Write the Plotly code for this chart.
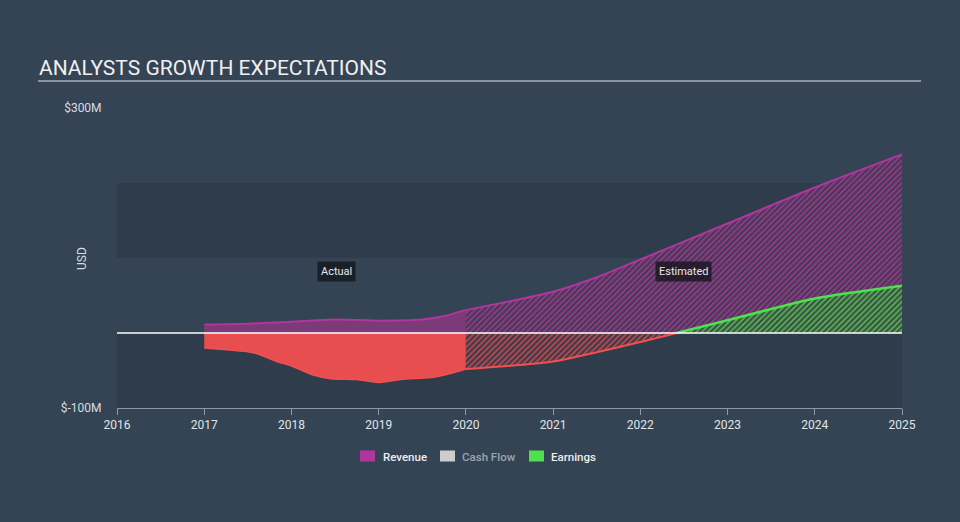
import plotly.graph_objects as go

# ---- data (USD millions) ----
rev_act_x = [2017.0, 2017.5, 2018.0, 2018.5, 2019.0, 2019.5, 2019.77, 2019.89, 2020.0]
rev_act_y = [11.5, 12.5, 15, 18, 16.5, 18, 23, 27, 30.5]

rev_est_x = [2020.0, 2021.0, 2021.54, 2022.0, 2023.0, 2024.0, 2025.0]
rev_est_y = [30.5, 55, 76, 98, 146, 194, 238]

earn_act_x = [2017.0, 2017.33, 2017.5, 2017.64, 2017.83, 2018.0, 2018.25, 2018.45,
              2018.75, 2019.0, 2019.25, 2019.63, 2019.82, 2020.0]
earn_act_y = [-20, -23, -25, -29, -38, -44, -56, -61, -62, -66, -62, -59, -54, -48]

earn_est_x = [2020.0, 2021.0, 2022.0, 2023.0, 2024.0, 2025.0]
earn_est_y = [-48, -38, -12, 17, 46, 63]

years = list(range(2016, 2026))
y_ticks = [-100, 300]
y_tick_text = ["$-100M", "$300M"]

legend_names = ["Revenue", "Cash Flow", "Earnings"]
legend_colors = ["#b0369d", "#cccccc", "#4ee14e"]
legend_text_colors = ["#eeeeee", "#9aa4ae", "#eeeeee"]

# ---- styles ----
BG = "#344455"
BAND = "#2e3c4b"
MAG = "#b0369d"
MAG_FILL = "#7d3a78"
RED = "#f0504f"
RED_FILL = "#e84e50"
GREEN = "#4ee14e"

# plot area in pixels (for placing paper-referenced decorations)
L, R, T, B = 117, 902, 108, 408


def px_x(px):
    return (px - L) / (R - L)


def px_y(py):
    return (B - py) / (B - T)


# split estimated earnings at zero crossing (linear between neighbours)
neg_x, neg_y, pos_x, pos_y = [], [], [], []
for i in range(len(earn_est_x)):
    x, y = earn_est_x[i], earn_est_y[i]
    if y <= 0:
        neg_x.append(x); neg_y.append(y)
    if i > 0:
        x0, y0 = earn_est_x[i - 1], earn_est_y[i - 1]
        if y0 < 0 < y:
            xc = x0 + (0 - y0) * (x - x0) / (y - y0)
            neg_x.append(xc); neg_y.append(0)
            pos_x.append(xc); pos_y.append(0)
    if y > 0:
        pos_x.append(x); pos_y.append(y)

fig = go.Figure()

spl = dict(shape="spline", smoothing=0.6)

fig.add_trace(go.Scatter(x=rev_act_x, y=rev_act_y, mode="lines", fill="tozeroy", name="Revenue",
                         fillcolor=MAG_FILL, line=dict(color=MAG, width=2, **spl),
                         showlegend=False, hoverinfo="skip"))
fig.add_trace(go.Scatter(x=rev_est_x, y=rev_est_y, mode="lines", fill="tozeroy", name="Revenue",
                         line=dict(color=MAG, width=2, **spl),
                         fillpattern=dict(shape="/", size=4, solidity=0.4, fgcolor="#9a3a8e",
                                          bgcolor="#453a55", fillmode="replace"),
                         showlegend=False, hoverinfo="skip"))
fig.add_trace(go.Scatter(x=earn_act_x, y=earn_act_y, mode="lines", fill="tozeroy", name="Earnings",
                         fillcolor=RED_FILL, line=dict(color=RED, width=1.5, **spl),
                         showlegend=False, hoverinfo="skip"))
fig.add_trace(go.Scatter(x=neg_x, y=neg_y, mode="lines", fill="tozeroy", name="Earnings",
                         line=dict(color=RED, width=2, **spl),
                         fillpattern=dict(shape="/", size=4, solidity=0.4, fgcolor="#c44a50",
                                          bgcolor="#3e3a4a", fillmode="replace"),
                         showlegend=False, hoverinfo="skip"))
fig.add_trace(go.Scatter(x=pos_x, y=pos_y, mode="lines", fill="tozeroy", name="Earnings",
                         line=dict(color=GREEN, width=2.5, **spl),
                         fillpattern=dict(shape="/", size=4, solidity=0.45, fgcolor="#58b552",
                                          bgcolor="#3a5046", fillmode="replace"),
                         showlegend=False, hoverinfo="skip"))

shapes = [
    dict(type="rect", xref="x", yref="y", x0=2016, x1=2025, y0=100, y1=200,
         fillcolor=BAND, line_width=0, layer="below"),
    dict(type="rect", xref="x", yref="y", x0=2016, x1=2025, y0=-100, y1=0,
         fillcolor=BAND, line_width=0, layer="below"),
    dict(type="line", xref="x", yref="y", x0=2016, x1=2025, y0=0, y1=0,
         line=dict(color="#ffffff", width=1.3), layer="above"),
    dict(type="line", xref="paper", yref="paper", x0=px_x(38), x1=px_x(921),
         y0=px_y(81), y1=px_y(81), line=dict(color="#a9b0b8", width=1.5)),
]

annotations = [
    dict(text="ANALYSTS GROWTH EXPECTATIONS", xref="paper", yref="paper",
         x=px_x(37), y=px_y(68), xanchor="left", yanchor="middle",
         showarrow=False, font=dict(size=21, color="#f0f0f0", family="Roboto")),
    dict(text="USD", xref="paper", yref="paper", x=px_x(82), y=px_y(259), textangle=-90,
         xanchor="center", yanchor="middle", showarrow=False,
         font=dict(size=12, color="#d8dce0")),
    dict(text="Actual", x=2018.52, y=82, showarrow=False, bgcolor="rgba(18,20,26,0.75)",
         font=dict(size=11, color="#e8e8e8"), borderpad=3),
    dict(text="Estimated", x=2022.5, y=82, showarrow=False, bgcolor="rgba(18,20,26,0.75)",
         font=dict(size=11, color="#e8e8e8"), borderpad=3),
]

# legend (drawn manually to match spacing)
sw_left = [360, 440, 529]
txt_left = [381, 460, 549]
for name, col, tcol, sx, tx in zip(legend_names, legend_colors, legend_text_colors, sw_left, txt_left):
    shapes.append(dict(type="rect", xref="paper", yref="paper", x0=px_x(sx), x1=px_x(sx + 15),
                       y0=px_y(461.5), y1=px_y(450.5), fillcolor=col, line_width=0))
    annotations.append(dict(text=name, xref="paper", yref="paper", x=px_x(tx), y=px_y(456.5),
                            xanchor="left", yanchor="middle", showarrow=False,
                            font=dict(size=11.5, color=tcol, family="Roboto", weight=500)))

fig.update_layout(
    width=960, height=522,
    margin=dict(l=L, r=960 - R, t=T, b=522 - B),
    paper_bgcolor=BG, plot_bgcolor=BG,
    font=dict(family="Roboto", color="#e0e4e8", size=12),
    shapes=shapes, annotations=annotations,
    showlegend=False,
    hovermode=False,
)
fig.update_xaxes(range=[2016, 2025], tickvals=years, ticktext=[str(y) for y in years],
                 showgrid=False, zeroline=False, showline=True, linecolor="#8c9aa8", linewidth=1,
                 ticks="outside", ticklen=6, tickcolor="#8c9aa8",
                 tickfont=dict(size=12, color="#e0e4e8"), fixedrange=True)
fig.update_yaxes(range=[-100, 300], tickvals=y_ticks, ticktext=y_tick_text,
                 showgrid=False, zeroline=False, showline=False,
                 ticks="outside", ticklen=12, tickcolor="rgba(0,0,0,0)",
                 tickfont=dict(size=12, color="#d8dce0"), fixedrange=True)

fig.write_html("out.html", config={"displayModeBar": False},
               post_script="document.body.style.margin='0';document.body.style.overflow='hidden';")
